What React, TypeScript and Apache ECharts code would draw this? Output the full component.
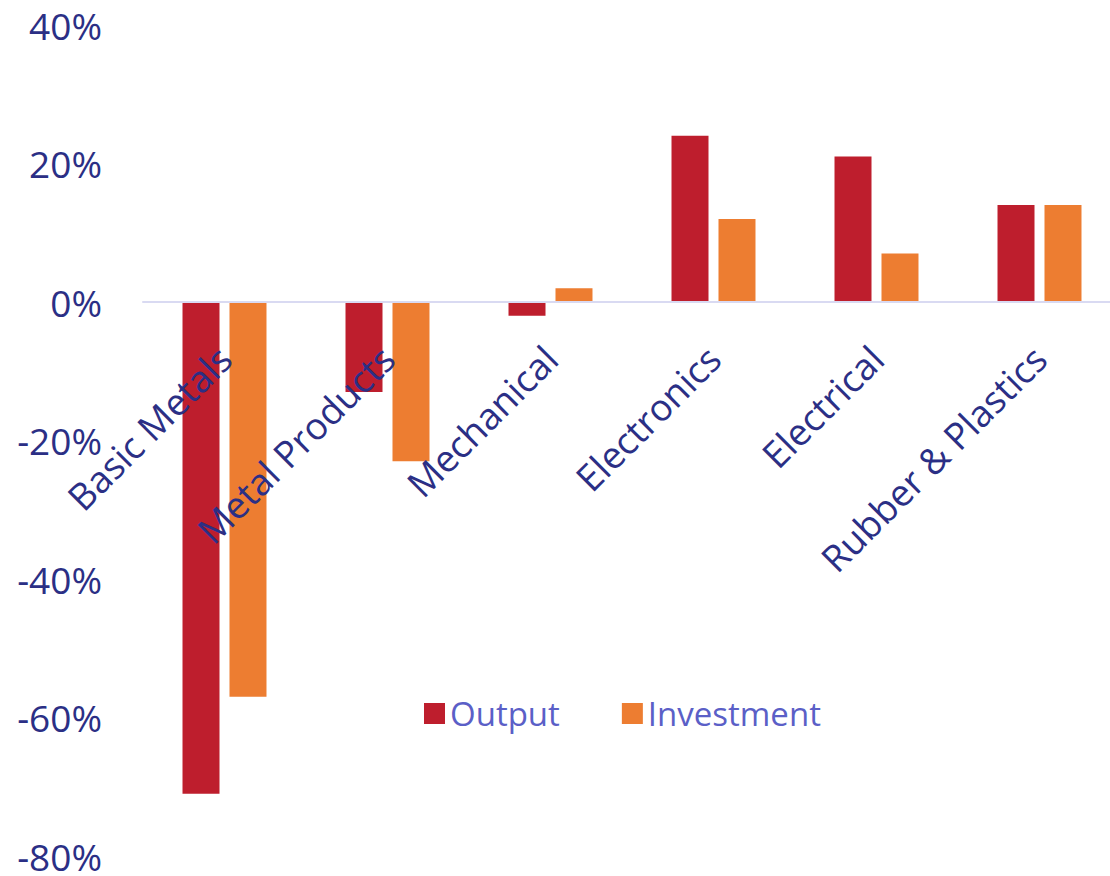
import React, { useEffect, useRef } from "react";
import * as echarts from "echarts";

const categories = ["Basic Metals", "Metal Products", "Mechanical", "Electronics", "Electrical", "Rubber & Plastics"];
const outputValues = [-71, -13, -2, 24, 21, 14];
const investmentValues = [-57, -23, 2, 12, 7, 14];
const seriesNames = ["Output", "Investment"];

export default function App() {
  const ref = useRef<HTMLDivElement>(null);
  useEffect(() => {
    if (!ref.current) return;
    const chart = echarts.init(ref.current, null, { renderer: "svg" });
    const font = "'Open Sans', 'Noto Sans', sans-serif";
    chart.setOption({
      animation: false,
      backgroundColor: "#ffffff",
      legend: {
        data: seriesNames,
        left: 419,
        top: 692,
        itemWidth: 21,
        itemHeight: 21,
        itemGap: 62,
        icon: "rect",
        textStyle: { color: "#5B5FC7", fontSize: 33, fontFamily: font, padding: [0, 0, 0, 0] },
      },
      grid: { left: 143, top: 25, width: 978, height: 831, containLabel: false, outerBoundsMode: "none" },
      xAxis: {
        type: "category",
        data: categories,
        offset: -554,
        z: 10,
        axisLine: { onZero: false, lineStyle: { color: "#D9DAF2", width: 2 } },
        axisTick: { show: false },
        axisLabel: {
          rotate: 45,
          interval: 0,
          margin: 50,
          color: "#2B2F85",
          fontSize: 37,
          fontFamily: font,
        },
      },
      yAxis: {
        type: "value",
        min: -80,
        max: 40,
        interval: 20,
        axisLine: { show: false },
        axisTick: { show: false },
        splitLine: { show: false },
        axisLabel: {
          formatter: "{value}%",
          margin: 41,
          color: "#2B2F85",
          fontSize: 37,
          fontFamily: font,
        },
      },
      series: [
        {
          name: seriesNames[0],
          type: "bar",
          data: outputValues,
          barWidth: 37,
          barGap: "27%",
          itemStyle: { color: "#BE1E2D" },
        },
        {
          name: seriesNames[1],
          type: "bar",
          data: investmentValues,
          barWidth: 37,
          itemStyle: { color: "#ED7D31" },
        },
      ],
    });
    return () => chart.dispose();
  }, []);
  return (
    <div style={{ position: "fixed", left: 0, top: 0, width: 1110, height: 876, overflow: "hidden", background: "#fff" }}>
      <div ref={ref} style={{ width: 1125, height: 876 }} />
    </div>
  );
}
